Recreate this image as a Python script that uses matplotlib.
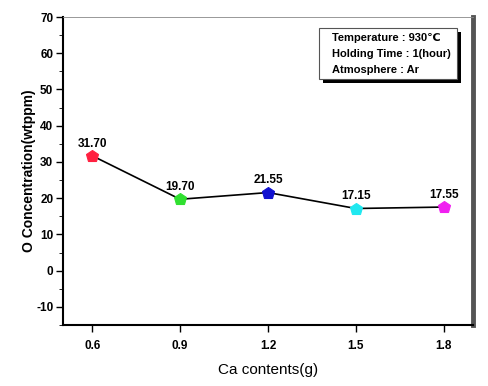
import matplotlib
matplotlib.use('Agg')
import matplotlib.pyplot as plt
from matplotlib.patches import FancyBboxPatch

ca_contents = [0.6, 0.9, 1.2, 1.5, 1.8]
o_conc = [31.70, 19.70, 21.55, 17.15, 17.55]
point_labels = ["31.70", "19.70", "21.55", "17.15", "17.55"]
point_colors = ['#ff2040', '#30e030', '#1010d0', '#20e8f0', '#f020f0']
info_lines = ["Temperature : 930\u2103", "Holding Time : 1(hour)", "Atmosphere : Ar"]

plt.rcParams['font.family'] = ['Liberation Sans', 'DejaVu Sans']
plt.rcParams['axes.unicode_minus'] = False

fig = plt.figure(figsize=(4.88, 3.86), dpi=100)
ax = fig.add_axes([63/488, 1 - 325/386, 410/488, 308/386])

ax.plot(ca_contents, o_conc, color='black', linewidth=1.2, zorder=2)
for x, y, c, lab in zip(ca_contents, o_conc, point_colors, point_labels):
    ax.plot(x, y, marker='p', markersize=9, markerfacecolor=c,
            markeredgecolor=c, markeredgewidth=0.8, zorder=3)
    ax.text(x, y + 1.7, lab, ha='center', va='bottom', fontsize=8.5,
            fontweight='bold')

ax.set_xlim(0.5, 1.9)
ax.set_ylim(-15, 70)
ax.set_xticks(ca_contents)
ax.set_yticks(range(-10, 71, 10))
ax.set_yticks(range(-15, 71, 5), minor=True)
ax.tick_params(axis='both', direction='out', labelsize=8.5, width=1)
ax.tick_params(axis='y', which='major', length=5, pad=2)
ax.tick_params(axis='y', which='minor', length=3)
ax.tick_params(axis='x', length=5, pad=6)
for lab in ax.get_xticklabels() + ax.get_yticklabels():
    lab.set_fontweight('bold')

ax.spines['left'].set_linewidth(1.5)
ax.spines['bottom'].set_linewidth(1.5)
ax.spines['top'].set_linewidth(0.6)
ax.spines['top'].set_color('#888888')
ax.spines['right'].set_linewidth(3.5)
ax.spines['right'].set_color('#555555')

ax.set_ylabel("O Concentration(wtppm)", fontsize=10, fontweight='bold')
ax.yaxis.set_label_coords(-0.065, 0.5)
ax.set_xlabel("Ca contents(g)", fontsize=11, labelpad=8)

# info box with shadow
bx, by, bw, bh = 0.625, 0.80, 0.335, 0.165
shadow = FancyBboxPatch((bx + 0.01, by - 0.015), bw, bh, boxstyle='square,pad=0',
                        transform=ax.transAxes, facecolor='black', edgecolor='none',
                        zorder=4)
box = FancyBboxPatch((bx, by), bw, bh, boxstyle='square,pad=0',
                     transform=ax.transAxes, facecolor='white', edgecolor='#555555',
                     linewidth=0.8, zorder=5)
ax.add_patch(shadow)
ax.add_patch(box)
for i, line in enumerate(info_lines):
    ax.text(bx + 0.03, by + bh - 0.033 - i * 0.052, line, transform=ax.transAxes,
            fontsize=8, fontweight='bold', va='center', ha='left', zorder=6)

fig.savefig("out.png", dpi=100)
